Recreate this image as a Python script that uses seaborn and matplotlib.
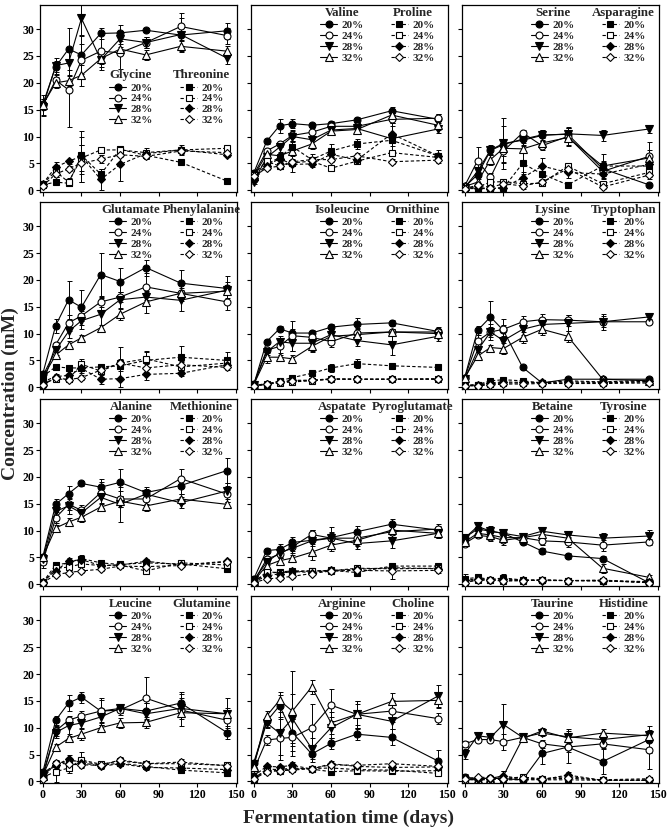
import seaborn as sns
import matplotlib.pyplot as plt

days = [0, 10, 20, 30, 45, 60, 80, 107, 143]
salt_levels = ['20%', '24%', '28%', '32%']

# row 1
glycine = [[16.0, 23.0, 26.3, 25.2, 29.2, 29.3, 29.8, 28.9, 29.7],
           [15.8, 20.5, 18.7, 24.2, 25.9, 25.6, 27.5, 30.5, 28.8],
           [15.5, 23.2, 23.7, 32.0, 24.3, 28.2, 27.5, 29.0, 24.6],
           [15.9, 20.0, 20.4, 21.4, 24.5, 26.3, 25.2, 26.8, 25.9]]
glycine_err = [[0.5, 1.0, 4.0, 3.5, 1.0, 1.5, 0.4, 2.0, 1.5],
               [2.0, 1.0, 7.0, 3.0, 3.0, 3.0, 1.0, 2.5, 1.5],
               [1.5, 1.5, 2.5, 3.0, 2.0, 1.5, 1.0, 3.0, 1.0],
               [1.0, 1.0, 1.0, 2.0, 1.0, 1.0, 1.0, 1.0, 1.0]]
threonine = [[1.0, 1.5, 1.3, 6.5, 3.0, 7.6, 6.5, 5.2, 1.7],
             [1.2, 3.5, 1.5, 6.0, 7.5, 7.5, 7.0, 7.5, 7.8],
             [1.2, 4.3, 5.4, 6.3, 2.0, 4.8, 6.8, 7.5, 6.6],
             [0.8, 3.0, 4.0, 5.0, 5.8, 6.6, 6.3, 7.3, 7.0]]
threonine_err = [[0.3, 0.3, 0.5, 3.5, 1.0, 0.5, 0.5, 0.3, 0.3],
                 [0.3, 1.0, 0.8, 2.5, 0.5, 0.5, 0.5, 0.5, 0.5],
                 [0.5, 1.0, 0.5, 4.8, 2.0, 3.0, 1.0, 1.0, 0.5],
                 [0.3, 0.5, 0.5, 3.5, 0.8, 0.5, 0.5, 0.5, 0.5]]

valine = [[3.2, 9.1, 12.0, 12.4, 12.1, 12.4, 13.1, 14.8, 13.2],
          [2.9, 7.3, 8.6, 10.2, 10.8, 11.9, 11.9, 13.2, 13.4],
          [1.6, 6.1, 8.0, 10.0, 9.4, 11.2, 11.5, 9.6, 11.4],
          [2.6, 6.7, 6.4, 7.3, 8.6, 11.0, 11.3, 14.0, 12.1]]
valine_err = [[0.5, 0.5, 1.3, 0.8, 0.5, 0.5, 0.5, 0.7, 1.0],
              [0.5, 0.5, 0.5, 1.0, 1.0, 0.7, 0.7, 0.7, 0.8],
              [0.5, 0.8, 0.8, 1.0, 1.0, 1.0, 1.0, 3.0, 0.8],
              [0.5, 0.5, 0.5, 0.8, 1.0, 0.8, 0.5, 1.0, 0.8]]
proline = [[2.2, 4.8, 6.1, 8.1, 5.7, 7.3, 8.6, 9.3, 6.4],
           [2.9, 5.4, 4.5, 5.1, 5.4, 4.1, 5.4, 7.0, 6.1],
           [1.9, 4.5, 5.9, 4.8, 4.9, 6.7, 5.6, 10.5, 6.4],
           [2.6, 4.1, 4.5, 5.3, 5.7, 5.7, 6.4, 5.3, 5.6]]
proline_err = [[0.3, 0.5, 0.8, 1.0, 1.0, 1.3, 1.0, 1.0, 1.0],
               [0.3, 0.5, 0.5, 0.5, 0.5, 0.5, 0.5, 0.5, 0.5],
               [0.3, 0.5, 0.5, 1.5, 0.5, 0.5, 0.5, 1.5, 0.5],
               [0.3, 0.3, 0.5, 0.5, 0.5, 0.5, 0.5, 0.5, 0.5]]

serine = [[0.6, 2.9, 7.4, 8.5, 9.5, 10.3, 10.4, 4.0, 1.0],
          [0.8, 5.5, 2.4, 7.3, 10.7, 8.3, 10.0, 3.5, 6.3],
          [0.5, 3.5, 7.5, 8.7, 9.3, 10.2, 10.5, 10.2, 11.4],
          [0.7, 1.5, 5.7, 7.8, 7.7, 8.8, 9.8, 4.5, 6.0]]
serine_err = [[0.2, 0.5, 0.8, 3.5, 0.8, 1.0, 1.2, 1.3, 0.3],
              [0.3, 2.5, 0.8, 2.0, 0.5, 0.8, 1.5, 0.8, 1.2],
              [0.2, 0.5, 1.0, 4.8, 1.0, 1.0, 1.2, 1.0, 0.8],
              [0.2, 0.5, 1.0, 1.5, 0.8, 1.0, 1.5, 1.0, 3.0]]
asparagine = [[0.3, 0.3, 0.3, 0.4, 5.0, 3.0, 1.0, 4.5, 4.5],
              [0.5, 0.6, 1.5, 1.6, 1.2, 1.3, 4.5, 1.2, 3.3],
              [0.3, 0.5, 0.3, 0.5, 2.3, 4.5, 3.3, 3.0, 4.8],
              [0.2, 1.0, 0.5, 1.2, 0.8, 1.5, 4.0, 0.6, 2.8]]
asparagine_err = [[0.2, 0.2, 0.2, 0.3, 2.0, 0.5, 0.3, 2.3, 1.0],
                  [0.2, 0.3, 0.5, 0.5, 0.5, 0.5, 0.5, 0.3, 0.8],
                  [0.2, 0.3, 0.3, 0.5, 1.0, 1.5, 1.0, 1.0, 1.0],
                  [0.2, 0.3, 0.3, 0.5, 0.5, 0.5, 0.5, 0.3, 0.8]]

# row 2
glutamate = [[2.5, 11.5, 16.3, 14.9, 21.0, 19.7, 22.3, 19.4, 18.4],
             [0.5, 7.9, 12.0, 13.3, 15.9, 16.8, 18.7, 17.5, 15.9],
             [2.1, 6.9, 10.4, 12.4, 13.6, 16.3, 16.8, 16.2, 18.1],
             [1.8, 6.0, 7.9, 9.2, 11.1, 13.6, 15.9, 17.5, 17.9]]
glutamate_err = [[0.5, 1.3, 3.5, 3.3, 4.0, 2.5, 1.5, 2.5, 2.3],
                 [0.3, 0.5, 1.5, 1.0, 1.0, 1.0, 2.5, 1.5, 1.5],
                 [0.5, 0.8, 1.3, 1.5, 3.0, 1.5, 1.0, 2.0, 1.5],
                 [0.3, 0.5, 0.8, 0.5, 0.5, 1.0, 2.0, 1.0, 0.5]]
phenylalanine = [[2.0, 3.8, 3.6, 3.6, 3.8, 4.0, 5.0, 5.6, 5.0],
                 [0.8, 1.5, 1.5, 4.3, 3.0, 4.5, 5.3, 3.8, 4.5],
                 [1.0, 2.0, 2.2, 3.5, 1.5, 1.6, 2.4, 2.6, 4.2],
                 [0.4, 1.8, 1.4, 1.8, 3.2, 4.5, 3.6, 4.2, 3.7]]
phenylalanine_err = [[0.5, 0.5, 0.5, 0.5, 0.5, 0.5, 1.5, 2.0, 1.5],
                     [0.3, 0.5, 0.5, 1.0, 1.0, 3.0, 1.5, 1.0, 1.0],
                     [0.3, 0.5, 0.8, 0.8, 0.8, 1.5, 1.0, 0.5, 0.5],
                     [0.2, 0.5, 0.5, 0.5, 0.8, 0.8, 0.8, 0.5, 0.5]]

isoleucine = [[0.5, 8.5, 10.9, 10.1, 10.1, 11.2, 11.7, 12.0, 10.4],
              [0.6, 6.9, 7.6, 9.6, 9.3, 8.5, 10.1, 10.3, 10.3],
              [0.5, 6.6, 8.5, 8.2, 8.2, 9.8, 8.7, 7.9, 9.5],
              [0.5, 5.6, 5.6, 5.3, 7.6, 9.5, 9.8, 10.3, 10.0]]
isoleucine_err = [[0.3, 0.5, 0.5, 0.8, 0.5, 0.5, 1.2, 0.5, 0.8],
                  [0.3, 0.5, 1.5, 2.8, 1.0, 1.0, 1.0, 0.5, 0.5],
                  [0.3, 0.5, 1.0, 1.5, 1.5, 1.0, 1.0, 1.8, 0.8],
                  [0.3, 1.0, 0.8, 0.8, 1.0, 1.0, 1.0, 0.5, 0.5]]
ornithine = [[0.3, 0.5, 1.2, 1.8, 2.6, 3.6, 4.4, 4.0, 3.7],
             [0.3, 0.6, 0.8, 1.0, 1.2, 1.5, 1.5, 1.5, 1.5],
             [0.3, 0.7, 1.0, 1.3, 1.3, 1.5, 1.5, 1.5, 1.5],
             [0.2, 0.6, 0.9, 1.2, 1.3, 1.6, 1.5, 1.5, 1.6]]
ornithine_err = [[0.2, 0.2, 0.3, 0.3, 0.4, 0.8, 0.8, 0.3, 0.3],
                 [0.2, 0.2, 0.2, 0.3, 0.2, 0.2, 0.2, 0.2, 0.2],
                 [0.2, 0.2, 0.3, 0.3, 0.2, 0.2, 0.2, 0.2, 0.2],
                 [0.2, 0.2, 0.2, 0.2, 0.2, 0.2, 0.2, 0.2, 0.2]]

lysine = [[1.8, 10.6, 13.1, 10.6, 3.7, 0.8, 1.5, 1.5, 1.5],
          [1.8, 8.6, 10.3, 10.8, 12.2, 12.6, 12.5, 12.2, 12.2],
          [1.5, 6.9, 10.3, 8.7, 10.8, 11.7, 11.9, 12.2, 13.1],
          [1.8, 5.8, 7.4, 7.2, 9.3, 10.8, 9.5, 1.5, 1.2]]
lysine_err = [[0.5, 0.8, 3.0, 1.0, 0.5, 0.3, 0.3, 0.3, 0.3],
              [0.5, 1.5, 1.0, 2.0, 1.0, 1.0, 1.0, 1.0, 0.5],
              [0.5, 1.3, 1.5, 2.0, 1.0, 1.0, 1.5, 1.5, 0.5],
              [0.5, 0.8, 0.5, 1.0, 1.0, 1.0, 1.0, 0.3, 0.3]]
tryptophan = [[0.3, 0.5, 1.2, 1.4, 1.2, 0.8, 1.2, 1.0, 1.3],
              [0.3, 0.4, 0.6, 0.8, 0.8, 0.8, 0.8, 0.8, 1.0],
              [0.3, 0.5, 0.8, 1.0, 0.9, 0.9, 1.0, 0.9, 1.1],
              [0.2, 0.3, 0.4, 0.6, 0.6, 0.7, 0.7, 0.7, 0.8]]
tryptophan_err = [[0.2, 0.2, 0.3, 0.3, 0.3, 0.5, 0.3, 0.3, 0.3],
                  [0.2, 0.2, 0.2, 0.2, 0.2, 0.2, 0.2, 0.2, 0.2],
                  [0.2, 0.2, 0.2, 0.3, 0.2, 0.2, 0.2, 0.2, 0.2],
                  [0.2, 0.2, 0.2, 0.2, 0.2, 0.2, 0.2, 0.2, 0.2]]

# row 3
alanine = [[5.1, 14.9, 16.9, 18.8, 18.1, 19.0, 17.1, 18.4, 21.2],
           [4.1, 12.4, 14.9, 13.8, 17.1, 15.9, 15.9, 19.7, 16.8],
           [4.7, 13.6, 14.6, 13.3, 16.2, 14.9, 16.8, 15.2, 17.4],
           [5.1, 10.5, 11.6, 12.5, 14.4, 15.5, 14.6, 15.9, 14.9]]
alanine_err = [[0.5, 1.0, 1.5, 0.5, 1.5, 2.5, 1.0, 1.5, 2.3],
               [1.0, 1.0, 1.0, 1.0, 2.0, 1.5, 1.0, 1.8, 1.5],
               [0.5, 1.0, 1.5, 1.0, 2.0, 3.2, 1.0, 1.0, 1.5],
               [0.5, 0.5, 0.8, 0.8, 0.5, 1.0, 1.0, 1.0, 0.5]]
methionine = [[0.4, 3.6, 4.0, 4.8, 4.0, 3.7, 4.0, 3.8, 2.9],
              [0.3, 3.0, 3.2, 3.8, 3.5, 3.6, 2.5, 4.0, 3.6],
              [0.5, 2.5, 4.3, 4.6, 3.5, 3.6, 4.3, 3.6, 4.3],
              [0.3, 1.8, 2.2, 2.5, 2.8, 3.4, 3.3, 3.5, 4.2]]
methionine_err = [[0.2, 0.5, 0.5, 0.6, 0.5, 0.3, 0.5, 0.5, 0.3],
                  [0.2, 0.4, 0.4, 0.5, 0.3, 0.3, 0.4, 0.5, 0.3],
                  [0.2, 0.5, 0.6, 0.6, 0.4, 0.3, 0.4, 0.3, 0.4],
                  [0.2, 0.3, 0.3, 0.3, 0.3, 0.3, 0.3, 0.3, 0.3]]

aspatate = [[1.0, 6.3, 6.5, 7.8, 8.2, 8.7, 9.8, 11.2, 10.1],
            [0.5, 4.7, 5.6, 7.0, 9.3, 8.6, 8.6, 9.8, 10.3],
            [0.8, 4.1, 5.9, 6.7, 8.1, 8.6, 7.6, 8.1, 9.5],
            [0.6, 3.5, 4.4, 4.9, 6.0, 7.3, 8.2, 10.1, 9.5]]
aspatate_err = [[0.3, 0.5, 1.0, 1.0, 1.0, 1.0, 1.0, 1.0, 0.8],
                [0.3, 0.5, 0.5, 0.8, 0.8, 2.0, 1.0, 1.0, 1.0],
                [0.3, 0.5, 1.0, 0.8, 2.0, 1.0, 1.0, 1.3, 0.8],
                [0.3, 0.5, 0.5, 0.5, 1.5, 1.0, 1.0, 1.0, 0.8]]
pyroglutamate = [[0.5, 2.0, 2.3, 2.5, 2.5, 2.6, 2.2, 3.4, 3.4],
                 [0.4, 2.3, 2.2, 2.3, 2.5, 2.5, 3.0, 2.9, 3.0],
                 [0.5, 1.5, 2.0, 2.4, 2.2, 2.6, 2.8, 3.1, 2.9],
                 [0.3, 1.0, 1.2, 1.5, 2.0, 2.5, 2.6, 2.5, 2.6]]
pyroglutamate_err = [[0.2, 0.3, 0.3, 0.3, 0.3, 0.3, 0.3, 0.5, 0.4],
                     [0.2, 0.3, 0.3, 0.3, 0.3, 0.3, 0.4, 0.5, 0.4],
                     [0.2, 0.3, 0.3, 0.3, 0.3, 0.3, 0.4, 0.5, 0.4],
                     [0.2, 0.3, 0.3, 0.3, 0.3, 0.3, 0.4, 1.5, 0.4]]

betaine = [[8.7, 10.3, 9.9, 9.5, 7.9, 6.2, 5.3, 4.8, 0.3],
           [7.6, 9.1, 8.9, 8.2, 8.7, 8.1, 7.9, 7.3, 7.9],
           [8.6, 10.8, 9.9, 9.5, 8.9, 9.9, 9.2, 8.6, 9.0],
           [7.9, 9.5, 9.2, 8.7, 8.7, 9.3, 8.6, 3.0, 1.3]]
betaine_err = [[0.5, 0.8, 0.8, 0.5, 0.5, 0.5, 0.5, 0.5, 0.3],
               [0.5, 0.5, 0.8, 0.8, 0.5, 0.8, 1.0, 1.0, 0.5],
               [0.5, 0.5, 1.0, 0.5, 0.5, 0.5, 0.5, 1.0, 1.2],
               [0.5, 0.5, 0.8, 0.5, 0.5, 0.5, 0.8, 0.8, 0.5]]
tyrosine = [[1.0, 1.3, 0.9, 1.2, 0.8, 0.8, 0.7, 0.7, 0.3],
            [0.5, 0.8, 0.8, 0.7, 0.7, 0.8, 0.7, 0.7, 0.5],
            [0.8, 1.0, 0.9, 1.0, 0.8, 0.7, 0.7, 0.6, 0.4],
            [0.3, 0.8, 0.8, 0.6, 0.7, 0.8, 0.7, 0.8, 0.3]]
tyrosine_err = [[1.0, 0.3, 0.3, 0.8, 0.2, 0.2, 0.2, 0.2, 0.2],
                [0.2, 0.2, 0.2, 0.2, 0.2, 0.2, 0.2, 0.2, 0.2],
                [0.4, 0.3, 0.2, 0.3, 0.2, 0.2, 0.2, 0.2, 0.2],
                [0.2, 0.2, 0.2, 0.2, 0.2, 0.2, 0.2, 0.2, 0.2]]

# row 4
leucine = [[1.7, 11.4, 14.6, 15.7, 13.1, 13.6, 13.1, 14.6, 9.1],
           [0.8, 9.4, 11.4, 12.2, 13.1, 13.3, 15.5, 13.3, 11.4],
           [1.4, 9.1, 10.4, 10.9, 12.0, 13.6, 12.6, 13.6, 12.6],
           [1.1, 6.4, 8.0, 8.8, 10.0, 10.9, 11.0, 12.8, 12.6]]
leucine_err = [[0.5, 0.8, 1.5, 1.0, 2.5, 0.8, 1.5, 2.0, 1.2],
               [0.5, 1.0, 0.8, 1.0, 2.0, 1.0, 4.0, 3.0, 1.5],
               [0.5, 1.0, 1.5, 1.0, 1.5, 0.8, 2.0, 2.0, 3.0],
               [0.3, 0.5, 0.5, 1.0, 0.8, 1.0, 1.0, 0.5, 1.0]]
glutamine = [[1.5, 3.2, 3.8, 3.8, 3.0, 3.4, 2.8, 2.1, 1.6],
             [0.8, 1.8, 2.5, 4.0, 3.2, 3.8, 3.3, 3.3, 3.0],
             [1.2, 3.0, 4.2, 3.5, 2.8, 3.3, 2.6, 2.5, 2.2],
             [0.5, 3.5, 3.2, 3.1, 3.0, 4.0, 3.3, 3.6, 2.9]]
glutamine_err = [[0.3, 0.5, 0.5, 0.5, 0.3, 0.3, 0.3, 0.3, 0.3],
                 [0.3, 2.0, 1.0, 1.5, 0.5, 0.5, 0.5, 0.5, 0.5],
                 [0.3, 0.5, 0.8, 0.8, 0.5, 0.5, 0.5, 0.5, 0.5],
                 [0.3, 0.5, 0.5, 0.5, 0.5, 0.5, 0.5, 0.5, 0.5]]

arginine = [[3.5, 11.2, 14.1, 9.1, 5.1, 7.1, 8.8, 8.2, 3.8],
            [2.1, 7.7, 8.0, 8.2, 10.0, 14.2, 12.5, 13.1, 11.7],
            [3.2, 10.9, 9.0, 11.7, 6.1, 10.0, 12.5, 11.2, 15.9],
            [2.7, 12.2, 15.1, 13.1, 17.6, 10.9, 12.5, 14.9, 15.1]]
arginine_err = [[0.5, 1.0, 2.5, 2.5, 1.5, 1.0, 1.0, 1.5, 2.0],
                [0.5, 1.0, 4.0, 3.5, 4.5, 3.0, 2.0, 2.0, 1.0],
                [0.8, 1.0, 4.0, 4.5, 2.0, 2.0, 2.5, 1.5, 2.0],
                [0.5, 1.0, 1.0, 7.5, 1.3, 2.0, 2.5, 1.5, 1.5]]
choline = [[0.5, 2.3, 2.2, 2.5, 2.3, 1.8, 2.0, 1.9, 2.0],
           [0.6, 2.0, 2.0, 2.3, 2.4, 2.5, 2.2, 2.1, 1.5],
           [1.0, 2.8, 2.7, 3.0, 2.3, 3.3, 2.8, 2.6, 2.7],
           [0.4, 1.8, 2.0, 2.1, 2.4, 3.1, 3.0, 3.3, 2.8]]
choline_err = [[0.2, 0.3, 0.3, 0.3, 0.3, 0.3, 0.3, 0.3, 0.3],
               [0.2, 0.3, 0.3, 0.3, 0.3, 0.3, 0.3, 0.3, 0.3],
               [0.2, 0.5, 0.4, 0.6, 0.3, 0.5, 0.4, 0.4, 0.4],
               [0.2, 0.3, 0.3, 0.3, 0.3, 0.4, 0.4, 0.4, 0.4]]

taurine = [[0.8, 0.5, 0.6, 0.5, 0.3, 5.2, 6.4, 3.7, 7.8],
           [7.0, 7.8, 7.8, 7.4, 8.2, 7.0, 6.4, 7.0, 5.9],
           [5.1, 8.5, 8.2, 10.6, 8.2, 9.0, 8.3, 7.8, 8.7],
           [0.3, 0.5, 0.6, 1.0, 8.0, 9.4, 8.1, 9.0, 8.5]]
taurine_err = [[0.5, 0.3, 0.3, 0.3, 0.3, 2.0, 3.0, 2.3, 2.5],
               [0.5, 0.5, 0.5, 1.5, 0.5, 0.8, 1.0, 0.8, 3.5],
               [1.0, 0.5, 0.8, 3.8, 0.5, 0.5, 1.5, 1.0, 0.8],
               [0.3, 0.3, 0.3, 1.0, 0.5, 0.5, 1.0, 0.8, 0.8]]
histidine = [[0.5, 0.3, 0.5, 0.3, 0.3, 0.3, 0.3, 0.2, 0.2],
             [0.3, 0.3, 0.3, 0.6, 0.8, 0.5, 0.9, 0.2, 0.3],
             [0.5, 0.4, 0.5, 1.0, 0.5, 0.3, 1.2, 0.2, 0.2],
             [0.4, 0.8, 0.7, 0.4, 0.7, 0.4, 0.6, 0.3, 0.5]]
histidine_err = [[0.2, 0.2, 0.2, 0.2, 0.2, 0.2, 0.2, 0.2, 0.2],
                 [0.2, 0.2, 0.2, 0.3, 0.3, 0.2, 0.3, 0.2, 0.2],
                 [0.2, 0.2, 0.2, 1.0, 0.3, 0.2, 0.5, 0.2, 0.2],
                 [0.2, 0.3, 0.3, 0.2, 0.3, 0.2, 0.3, 0.2, 0.2]]

panels = [
    ('Glycine', glycine, glycine_err, 'Threonine', threonine, threonine_err),
    ('Valine', valine, valine_err, 'Proline', proline, proline_err),
    ('Serine', serine, serine_err, 'Asparagine', asparagine, asparagine_err),
    ('Glutamate', glutamate, glutamate_err, 'Phenylalanine', phenylalanine, phenylalanine_err),
    ('Isoleucine', isoleucine, isoleucine_err, 'Ornithine', ornithine, ornithine_err),
    ('Lysine', lysine, lysine_err, 'Tryptophan', tryptophan, tryptophan_err),
    ('Alanine', alanine, alanine_err, 'Methionine', methionine, methionine_err),
    ('Aspatate', aspatate, aspatate_err, 'Pyroglutamate', pyroglutamate, pyroglutamate_err),
    ('Betaine', betaine, betaine_err, 'Tyrosine', tyrosine, tyrosine_err),
    ('Leucine', leucine, leucine_err, 'Glutamine', glutamine, glutamine_err),
    ('Arginine', arginine, arginine_err, 'Choline', choline, choline_err),
    ('Taurine', taurine, taurine_err, 'Histidine', histidine, histidine_err),
]

solid_markers = [('o', 'black', 5), ('o', 'white', 5), ('v', 'black', 5.5), ('^', 'white', 5.5)]
dashed_markers = [('s', 'black', 4.5), ('s', 'white', 4.5), ('D', 'black', 4), ('D', 'white', 4)]

sns.set_style('ticks')
plt.rcParams['font.family'] = ['Liberation Serif', 'DejaVu Serif']
plt.rcParams['font.weight'] = 'bold'


def draw_group(ax, series, errors, markers, ls):
    handles = []
    for vals, errs, (m, fc, ms) in zip(series, errors, markers):
        ax.errorbar(days, vals, yerr=errs, fmt='none', ecolor='black',
                    elinewidth=0.7, capsize=1.8, capthick=0.7, zorder=2)
        sns.lineplot(x=days, y=vals, ax=ax, color='black', linewidth=0.8,
                     linestyle=ls, marker=m, markersize=ms, markerfacecolor=fc,
                     markeredgecolor='black', markeredgewidth=0.8,
                     errorbar=None, zorder=3)
        handles.append(ax.lines[-1])
    return handles


fig, axes = plt.subplots(4, 3, figsize=(6.7, 8.33), dpi=100)
fig.subplots_adjust(left=0.06, right=0.984, top=0.994, bottom=0.06,
                    wspace=0.07, hspace=0.055)

for i, (ax, (name1, s1, e1, name2, s2, e2)) in enumerate(zip(axes.flat, panels)):
    row, col = divmod(i, 3)
    h1 = draw_group(ax, s1, e1, solid_markers, '-')
    h2 = draw_group(ax, s2, e2, dashed_markers, (0, (3, 2)))

    ax.set_xlim(-2, 151)
    ax.set_ylim(-0.3, 34.5)
    ax.set_xticks([0, 30, 60, 90, 120, 150])
    ax.set_yticks([0, 5, 10, 15, 20, 25, 30])
    ax.set_xlabel('')
    ax.set_ylabel('')
    ax.tick_params(direction='out', length=3, width=0.8, labelsize=8.5,
                   pad=1.5, colors='black')
    ax.tick_params(labelleft=(col == 0), labelbottom=(row == 3))
    for sp in ax.spines.values():
        sp.set_color('black')
        sp.set_linewidth(0.9)

    # legends are centred on their entry columns, titles centred above
    ytop = 0.655 if i == 0 else 0.99
    leg_kw = dict(loc='upper center', frameon=False, borderaxespad=0, borderpad=0,
                  handlelength=1.6, handletextpad=0.4, labelspacing=0.1,
                  prop={'size': 8, 'weight': 'bold'},
                  title_fontproperties={'size': 9.3, 'weight': 'bold'})
    leg1 = ax.legend(h1, salt_levels, title=name1, bbox_to_anchor=(0.46, ytop), **leg_kw)
    leg1._legend_box.sep = 1
    ax.add_artist(leg1)
    leg2 = ax.legend(h2, salt_levels, title=name2, bbox_to_anchor=(0.82, ytop), **leg_kw)
    leg2._legend_box.sep = 1

fig.text(0.52, 0.018, 'Fermentation time (days)', ha='center', va='center',
         fontsize=14, fontweight='bold')
fig.text(0.016, 0.528, 'Concentration (mM)', rotation=90, ha='center', va='center',
         fontsize=14, fontweight='bold')

fig.savefig('out.png', dpi=100)
